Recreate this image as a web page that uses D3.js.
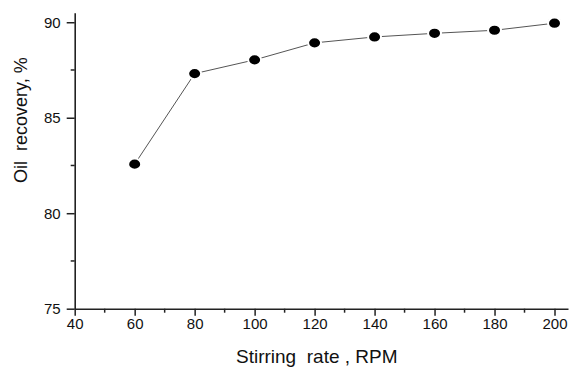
<!DOCTYPE html>
<html>
<head>
<meta charset="utf-8">
<script src="https://cdn.jsdelivr.net/npm/d3@7"></script>
<style>
  body { margin: 0; background: #fff; }
  svg { display: block; }
</style>
</head>
<body>
<script>
const rpm = [60, 80, 100, 120, 140, 160, 180, 200]
const recovery = [82.57, 87.31, 88.03, 88.92, 89.23, 89.42, 89.58, 89.95]
const xTicks = [40, 60, 80, 100, 120, 140, 160, 180, 200]
const yTicks = [75, 80, 85, 90]

const width = 569
const height = 367

const x = d3.scaleLinear().domain([40, 204.5]).range([74.7, 568])
const y = d3.scaleLinear().domain([75, 90.5]).range([308.7, 12.7])

const svg = d3.select("body").append("svg")
  .attr("width", width)
  .attr("height", height)
  .attr("font-family", "'Liberation Sans', Arial, sans-serif")

const data = rpm.map((r, i) => ({ r, v: recovery[i] }))

// minor ticks
const xMinor = d3.range(50, 204, 20)
const yMinor = [77.5, 82.5, 87.5]

svg.append("g")
  .selectAll("line")
  .data(xMinor)
  .join("line")
  .attr("x1", d => x(d)).attr("x2", d => x(d))
  .attr("y1", y(75)).attr("y2", y(75) + 4)
  .attr("stroke", "#222").attr("stroke-width", 1.5)

svg.append("g")
  .selectAll("line")
  .data(yMinor)
  .join("line")
  .attr("x1", x(40) - 4).attr("x2", x(40))
  .attr("y1", d => y(d)).attr("y2", d => y(d))
  .attr("stroke", "#222").attr("stroke-width", 1.5)

const xAxis = svg.append("g")
  .attr("transform", `translate(0,${y(75)})`)
  .call(d3.axisBottom(x).tickValues(xTicks).tickSize(7).tickPadding(3).tickSizeOuter(0))
xAxis.select(".domain").attr("stroke", "#222").attr("stroke-width", 1.6)
xAxis.selectAll(".tick line").attr("stroke", "#222").attr("stroke-width", 1.5)
xAxis.selectAll(".tick text").attr("font-size", 15).attr("fill", "#111")
  .attr("font-family", "'Liberation Sans', Arial, sans-serif")

const yAxis = svg.append("g")
  .attr("transform", `translate(${x(40)},0)`)
  .call(d3.axisLeft(y).tickValues(yTicks).tickSize(8).tickPadding(6).tickSizeOuter(0))
yAxis.select(".domain").attr("stroke", "#222").attr("stroke-width", 1.6)
yAxis.selectAll(".tick line").attr("stroke", "#222").attr("stroke-width", 1.5)
yAxis.selectAll(".tick text").attr("font-size", 15).attr("fill", "#111")
  .attr("font-family", "'Liberation Sans', Arial, sans-serif")

// line
svg.append("path")
  .datum(data)
  .attr("fill", "none")
  .attr("stroke", "#555")
  .attr("stroke-width", 1)
  .attr("d", d3.line().x(d => x(d.r)).y(d => y(d.v)))

svg.append("g")
  .selectAll("ellipse")
  .data(data)
  .join("ellipse")
  .attr("cx", d => x(d.r))
  .attr("cy", d => y(d.v))
  .attr("rx", 6.5)
  .attr("ry", 5.6)
  .attr("fill", "#000")
  .attr("stroke", "#fff")
  .attr("stroke-width", 2)

svg.append("text")
  .attr("x", 236)
  .attr("y", 363)
  .attr("font-size", 19)
  .attr("fill", "#111")
  .style("white-space", "pre")
  .text("Stirring  rate , RPM")

svg.append("text")
  .attr("transform", "translate(27,183) rotate(-90)")
  .attr("font-size", 18)
  .attr("fill", "#111")
  .style("white-space", "pre")
  .text("Oil  recovery, %")
</script>
</body>
</html>
